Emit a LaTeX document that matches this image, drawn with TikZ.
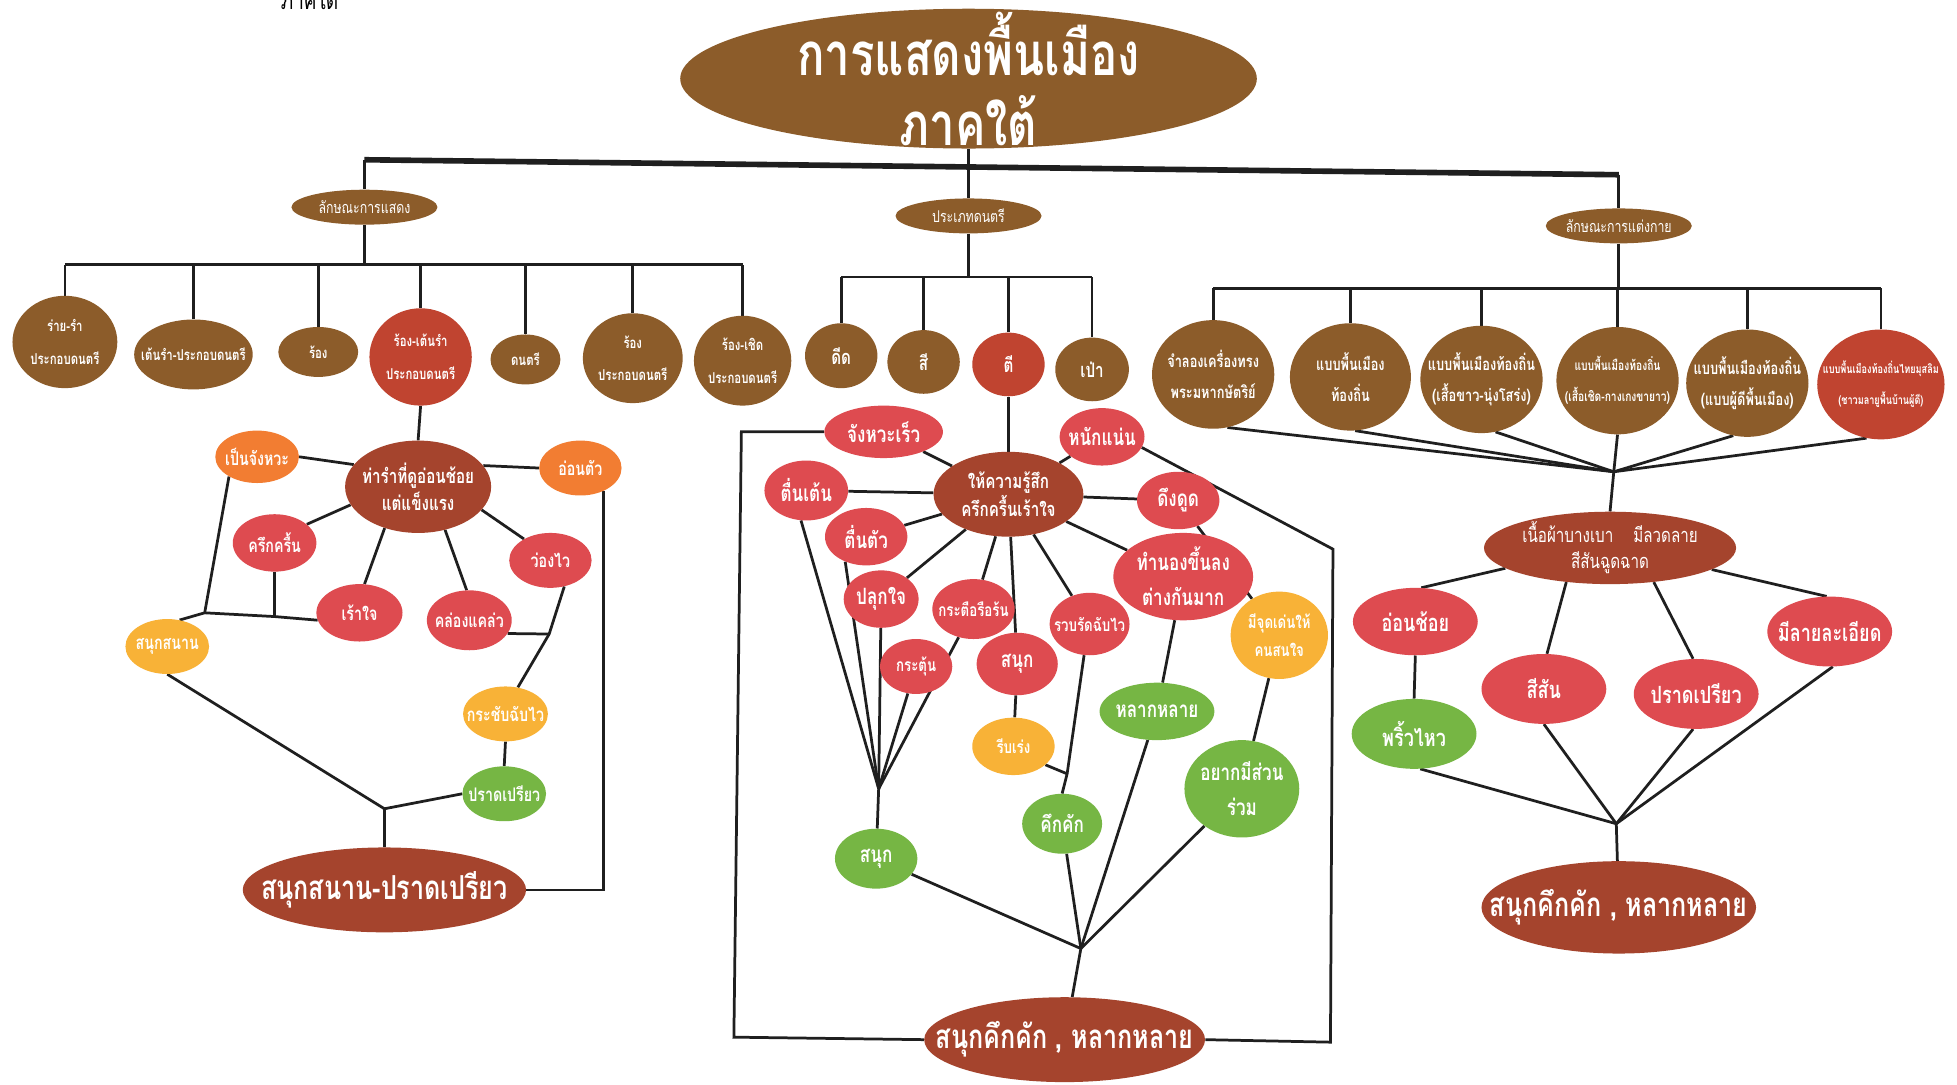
\documentclass[tikz,border=0pt]{standalone}
\usepackage{fontspec}
\newfontfamily\thai[Script=Thai,FakeStretch=0.76]{Loma}
\usetikzlibrary{shapes.geometric}

\definecolor{brownc}{RGB}{140,92,42}
\definecolor{deepred}{RGB}{165,68,45}
\definecolor{midred}{RGB}{192,68,48}
\definecolor{coral}{RGB}{222,75,80}
\definecolor{orangec}{RGB}{242,125,50}
\definecolor{yellowc}{RGB}{248,178,55}
\definecolor{greenc}{RGB}{118,182,68}

\newcommand{\tfTitle}{\thai\bfseries\fontsize{48}{56}\selectfont}
\newcommand{\tfCat}{\thai\fontsize{13}{15}\selectfont}
\newcommand{\tfKind}{\thai\bfseries\fontsize{12}{26}\selectfont}
\newcommand{\tfInst}{\thai\bfseries\fontsize{16}{20}\selectfont}
\newcommand{\tfDress}{\thai\bfseries\fontsize{13.5}{25}\selectfont}
\newcommand{\tfTiny}{\thai\bfseries\fontsize{10.8}{25}\selectfont}
\newcommand{\tfSub}{\thai\bfseries\fontsize{15}{20}\selectfont}
\newcommand{\tfPose}{\thai\bfseries\fontsize{16}{22}\selectfont}
\newcommand{\tfMid}{\thai\bfseries\fontsize{18}{28}\selectfont}
\newcommand{\tfSmall}{\thai\bfseries\fontsize{14}{22}\selectfont}
\newcommand{\tfRight}{\thai\bfseries\fontsize{19}{24}\selectfont}
\newcommand{\tfCloth}{\thai\fontsize{16}{21}\selectfont}
\newcommand{\tfEnd}{\thai\bfseries\fontsize{26.5}{30}\selectfont}

\pgfdeclarelayer{paper}
\pgfdeclarelayer{lines}
\pgfsetlayers{paper,lines,main}

\tikzset{
  bub/.style={ellipse, inner xsep=-30pt, inner ysep=-15pt, align=center, text=white},
  conn/.style={line width=2.2pt, draw=black!88},
  trunk/.style={line width=4.5pt, draw=black!88},
}

\begin{document}
\begin{tikzpicture}[x=1pt, y=-1pt]

\useasboundingbox (0,0) rectangle (1568,869);
\begin{pgfonlayer}{paper}
\fill[white] (0,0) rectangle (1568,869);
\end{pgfonlayer}

% cut title at the top edge
\node[font=\thai\fontsize{20}{22}\selectfont] (edge) at (248,-1) {ภาคใต้};

% top of the tree
\node[bub, fill=brownc, minimum width=462pt, minimum height=112pt, font=\tfTitle] (title) at (776,63) {การแสดงพื้นเมือง\\ภาคใต้};

\node[bub, fill=brownc, minimum width=117pt, minimum height=28pt, font=\tfCat] (show) at (292,166) {ลักษณะการแสดง};
\node[bub, fill=brownc, minimum width=117pt, minimum height=28pt, font=\tfCat] (music) at (776,173) {ประเภทดนตรี};
\node[bub, fill=brownc, minimum width=117pt, minimum height=28pt, font=\tfCat] (dress) at (1297,181) {ลักษณะการแต่งกาย};

% kinds of show
\node[bub, fill=brownc, minimum width=84pt, minimum height=74pt, font=\tfKind] (k1) at (52,274) {ร่าย-รำ\\ประกอบดนตรี};
\node[bub, fill=brownc, minimum width=95pt, minimum height=56pt, font=\tfKind] (k2) at (155,284) {เต้นรำ-ประกอบดนตรี};
\node[bub, fill=brownc, minimum width=64pt, minimum height=40pt, font=\tfKind] (k3) at (255,282) {ร้อง};
\node[bub, fill=midred, minimum width=82pt, minimum height=78pt, font=\tfKind] (k4) at (337,286) {ร้อง-เต้นรำ\\ประกอบดนตรี};
\node[bub, fill=brownc, minimum width=56pt, minimum height=40pt, font=\tfKind] (k5) at (421,288) {ดนตรี};
\node[bub, fill=brownc, minimum width=80pt, minimum height=72pt, font=\tfKind] (k6) at (507,287) {ร้อง\\ประกอบดนตรี};
\node[bub, fill=brownc, minimum width=78pt, minimum height=72pt, font=\tfKind] (k7) at (595,289) {ร้อง-เชิด\\ประกอบดนตรี};

% kinds of music
\node[bub, fill=brownc, minimum width=58pt, minimum height=52pt, font=\tfInst] (m1) at (674,285) {ดีด};
\node[bub, fill=brownc, minimum width=58pt, minimum height=51pt, font=\tfInst] (m2) at (740,290) {สี};
\node[bub, fill=midred, minimum width=58pt, minimum height=51pt, font=\tfInst] (m3) at (808,292) {ตี};
\node[bub, fill=brownc, minimum width=59pt, minimum height=51pt, font=\tfInst] (m4) at (875,296) {เป่า};

% kinds of dress
\node[bub, fill=brownc, minimum width=98pt, minimum height=87pt, font=\tfDress] (r1) at (972,300) {จำลองเครื่องทรง\\พระมหากษัตริย์};
\node[bub, fill=brownc, minimum width=97pt, minimum height=86pt, font=\tfDress] (r2) at (1082,302) {แบบพื้นเมือง\\ท้องถิ่น};
\node[bub, fill=brownc, minimum width=98pt, minimum height=86pt, font=\tfDress] (r3) at (1187,304) {แบบพื้นเมืองท้องถิ่น\\(เสื้อขาว-นุ่งโสร่ง)};
\node[bub, fill=brownc, minimum width=98pt, minimum height=86pt, font=\tfTiny] (r4) at (1296,305) {แบบพื้นเมืองท้องถิ่น\\(เสื้อเชิด-กางเกงขายาว)};
\node[bub, fill=brownc, minimum width=98pt, minimum height=86pt, font=\tfDress] (r5) at (1400,307) {แบบพื้นเมืองท้องถิ่น\\(แบบผู้ดีพื้นเมือง)};
\node[bub, fill=midred, minimum width=102pt, minimum height=88pt, font=\thai\bfseries\fontsize{9.6}{25}\selectfont] (r6) at (1507,308) {แบบพื้นเมืองท้องถิ่นไทยมุสลิม\\(ชาวมลายูพื้นบ้านผู้ดี)};

% left: the dance
\node[bub, fill=deepred, minimum width=117pt, minimum height=74pt, font=\tfPose] (pose) at (335,390) {ท่ารำที่ดูอ่อนช้อย\\แต่แข็งแรง};
\node[bub, fill=orangec, minimum width=67pt, minimum height=42pt, font=\tfSub] (beat) at (206,366) {เป็นจังหวะ};
\node[bub, fill=orangec, minimum width=66pt, minimum height=44pt, font=\tfSub] (supple) at (465,375) {อ่อนตัว};
\node[bub, fill=coral, minimum width=67pt, minimum height=46pt, font=\tfSub] (cheer) at (220,435) {ครึกครื้น};
\node[bub, fill=coral, minimum width=69pt, minimum height=46pt, font=\tfSub] (thrill) at (288,491) {เร้าใจ};
\node[bub, fill=coral, minimum width=68pt, minimum height=48pt, font=\tfSub] (deft) at (376,497) {คล่องแคล่ว};
\node[bub, fill=coral, minimum width=66pt, minimum height=44pt, font=\tfSub] (quick) at (441,449) {ว่องไว};
\node[bub, fill=yellowc, minimum width=67pt, minimum height=44pt, font=\tfSub] (merry) at (134,518) {สนุกสนาน};
\node[bub, fill=yellowc, minimum width=68pt, minimum height=44pt, font=\tfSub] (brisk) at (405,572) {กระชับฉับไว};
\node[bub, fill=greenc, minimum width=67pt, minimum height=44pt, font=\tfSub] (nimble) at (404,636) {ปราดเปรียว};
\node[bub, fill=deepred, minimum width=227pt, minimum height=68pt, font=\tfEnd] (endL) at (308,713) {สนุกสนาน-ปราดเปรียว};

% middle: the music
\node[bub, fill=deepred, minimum width=120pt, minimum height=68pt, font=\tfPose] (feel) at (808,396) {ให้ความรู้สึก\\ครึกครื้นเร้าใจ};
\node[bub, fill=coral, minimum width=95pt, minimum height=42pt, font=\tfMid] (fast) at (708,346) {จังหวะเร็ว};
\node[bub, fill=coral, minimum width=68pt, minimum height=46pt, font=\tfMid] (firm) at (883,350) {หนักแน่น};
\node[bub, fill=coral, minimum width=67pt, minimum height=48pt, font=\tfMid] (excite) at (646,393) {ตื่นเต้น};
\node[bub, fill=coral, minimum width=66pt, minimum height=46pt, font=\tfMid] (alert) at (694,430) {ตื่นตัว};
\node[bub, fill=coral, minimum width=66pt, minimum height=46pt, font=\tfMid] (pull) at (944,401) {ดึงดูด};
\node[bub, fill=coral, minimum width=60pt, minimum height=46pt, font=\tfMid] (rouse) at (706,480) {ปลุกใจ};
\node[bub, fill=coral, minimum width=66pt, minimum height=48pt, font=\tfSmall] (eager) at (780,488) {กระตือรือร้น};
\node[bub, fill=coral, minimum width=58pt, minimum height=44pt, font=\tfSmall] (spur) at (734,534) {กระตุ้น};
\node[bub, fill=coral, minimum width=65pt, minimum height=50pt, font=\tfMid] (fun) at (815,532) {สนุก};
\node[bub, fill=coral, minimum width=64pt, minimum height=50pt, font=\tfSmall] (terse) at (873,500) {รวบรัดฉับไว};
\node[bub, fill=coral, minimum width=112pt, minimum height=70pt, font=\tfMid] (tune) at (948,462) {ทำนองขึ้นลง\\ต่างกันมาก};
\node[bub, fill=yellowc, minimum width=78pt, minimum height=70pt, font=\tfSmall] (stand) at (1025,509) {มีจุดเด่นให้\\คนสนใจ};
\node[bub, fill=yellowc, minimum width=66pt, minimum height=46pt, font=\tfSmall] (rush) at (812,598) {รีบเร่ง};
\node[bub, fill=greenc, minimum width=92pt, minimum height=46pt, font=\tfMid] (varied) at (927,570) {หลากหลาย};
\node[bub, fill=greenc, minimum width=92pt, minimum height=78pt, font=\tfMid] (join) at (995,632) {อยากมีส่วน\\ร่วม};
\node[bub, fill=greenc, minimum width=64pt, minimum height=48pt, font=\tfMid] (lively) at (851,660) {คึกคัก};
\node[bub, fill=greenc, minimum width=66pt, minimum height=48pt, font=\tfMid] (joy) at (702,688) {สนุก};
\node[bub, fill=deepred, minimum width=225pt, minimum height=68pt, font=\tfEnd] (endM) at (853,833) {สนุกคึกคัก , หลากหลาย};

% right: the dress
\node[bub, fill=deepred, minimum width=202pt, minimum height=58pt, font=\tfCloth] (cloth) at (1290,439) {เนื้อผ้าบางเบา\quad มีลวดลาย\\สีสันฉูดฉาด};
\node[bub, fill=coral, minimum width=100pt, minimum height=54pt, font=\tfRight] (grace) at (1134,498) {อ่อนช้อย};
\node[bub, fill=coral, minimum width=100pt, minimum height=56pt, font=\tfRight] (color) at (1237,552) {สีสัน};
\node[bub, fill=coral, minimum width=100pt, minimum height=56pt, font=\tfRight] (sleek) at (1359,556) {ปราดเปรียว};
\node[bub, fill=coral, minimum width=100pt, minimum height=56pt, font=\tfRight] (fine) at (1466,506) {มีลายละเอียด};
\node[bub, fill=greenc, minimum width=100pt, minimum height=56pt, font=\tfRight] (sway) at (1133,588) {พริ้วไหว};
\node[bub, fill=deepred, minimum width=220pt, minimum height=74pt, font=\tfEnd] (endR) at (1297,727) {สนุกคึกคัก , หลากหลาย};

% free ends of the connectors
\coordinate (barL) at (292,128);
\coordinate (barR) at (1297,140);
\coordinate (lbL) at (52,212);
\coordinate (lbR) at (595,212);
\coordinate (mbL) at (674,222);
\coordinate (mbR) at (875,222);
\coordinate (rbL) at (972,231);
\coordinate (rbR) at (1507,231);
\coordinate (jL1) at (164,491);
\coordinate (jL1b) at (220,494);
\coordinate (jL2) at (440,508);
\coordinate (jL3) at (308,648);
\coordinate (oL1) at (594,346);
\coordinate (oL2) at (588,831);
\coordinate (oR1) at (1068,440);
\coordinate (oR2) at (1066,835);
\coordinate (jM1) at (855,620);
\coordinate (jM2) at (704,632);
\coordinate (jM3) at (866,760);
\coordinate (jD1) at (1293,378);
\coordinate (jD2) at (1295,660);

\begin{pgfonlayer}{lines}
\draw[trunk] (barL) -- (barR);
\draw[conn] (title.south) -- (music.north);
\draw[conn] (barL) -- (show.north);
\draw[conn] (barR) -- (dress.north);

\draw[conn] (lbL) -- (lbR);
\draw[conn] (show.south) -- (show.south |- lbL);
\foreach \n in {k1,k2,k3,k4,k5,k6,k7}
  \draw[conn] (\n.north) -- (\n.north |- lbL);

\draw[conn] (mbL) -- (mbR);
\draw[conn] (music.south) -- (music.south |- mbL);
\foreach \n in {m1,m2,m3,m4}
  \draw[conn] (\n.north) -- (\n.north |- mbL);

\draw[conn] (rbL) -- (rbR);
\draw[conn] (dress.south) -- (dress.south |- rbL);
\foreach \n in {r1,r2,r3,r4,r5,r6}
  \draw[conn] (\n.north) -- (\n.north |- rbL);

% left
\draw[conn] (k4.south) -- (pose.north);
\draw[conn] (beat.east) -- (pose.161);
\draw[conn] (pose.18) -- (supple.west);
\draw[conn] (pose.195) -- (cheer.30);
\draw[conn] (pose.231) -- (thrill.80);
\draw[conn] (pose.302) -- (deft.95);
\draw[conn] (pose.340) -- (quick.141);
\draw[conn] (beat.215) -- (jL1) -- (merry.65);
\draw[conn] (jL1) -- (jL1b) -- (thrill.190);
\draw[conn] (cheer.south) -- (jL1b);
\draw[conn] (quick.298) -- (jL2) -- (brisk.65);
\draw[conn] (deft.341) -- (jL2);
\draw[conn] (brisk.south) -- (nimble.north);
\draw[conn] (merry.south) -- (jL3);
\draw[conn] (nimble.west) -- (jL3) -- (endL.north);
\draw[conn] (supple.-45) |- (endL.east);

% middle
\draw[conn] (m3.south) -- (feel.north);
\foreach \n in {fast,firm,excite,alert,pull,rouse,eager,fun,terse,tune}
  \draw[conn] (feel) -- (\n);
\draw[conn] (fun) -- (rush);
\draw[conn] (tune) -- (varied);
\draw[conn] (pull) -- (stand);
\draw[conn] (stand) -- (join);
\draw[conn] (terse.-100) -- (jM1) -- (lively.north);
\draw[conn] (rush.-30) -- (jM1);
\draw[conn] (excite.-100) -- (jM2);
\draw[conn] (alert.-130) -- (jM2);
\foreach \n in {rouse,spur,eager}
  \draw[conn] (\n) -- (jM2);
\draw[conn] (jM2) -- (joy);
\foreach \n in {joy,lively,varied,join}
  \draw[conn] (\n) -- (jM3);
\draw[conn] (jM3) -- (endM);
\draw[conn] (firm.-15) -- (oR1) -- (oR2) -- (endM.east);
\draw[conn] (fast.west) -- (oL1) -- (oL2) -- (endM.west);

% right
\draw[conn] (r1.-75) -- (jD1);
\draw[conn] (r2.-85) -- (jD1);
\draw[conn] (r3.-75) -- (jD1);
\draw[conn] (r4.south) -- (jD1);
\draw[conn] (r5.-105) -- (jD1);
\draw[conn] (r6.-105) -- (jD1);
\draw[conn] (jD1) -- (cloth.north);
\draw[conn] (cloth.191) -- (grace.80);
\draw[conn] (cloth.218) -- (color.85);
\draw[conn] (cloth.-38) -- (sleek.95);
\draw[conn] (cloth.-12) -- (fine.95);
\draw[conn] (grace.south) -- (sway.north);
\draw[conn] (sway.-80) -- (jD2);
\draw[conn] (color.south) -- (jD2);
\draw[conn] (sleek.-95) -- (jD2);
\draw[conn] (fine.-85) -- (jD2);
\draw[conn] (jD2) -- (endR);
\end{pgfonlayer}

\end{tikzpicture}
\end{document}
